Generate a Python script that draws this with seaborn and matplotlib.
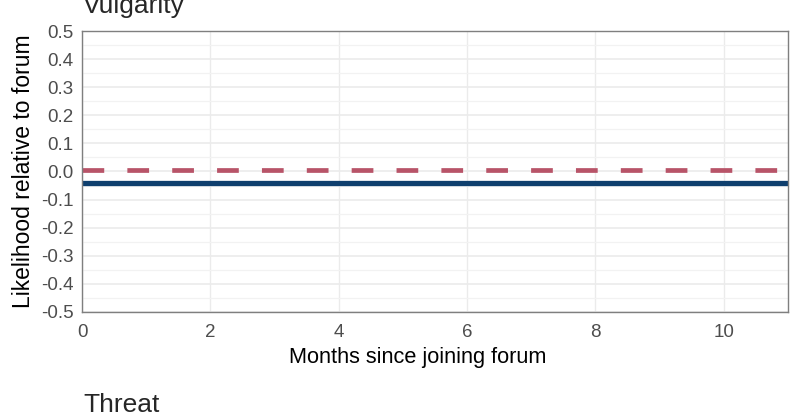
import pandas as pd
import numpy as np
import matplotlib
matplotlib.use("Agg")
import matplotlib.pyplot as plt
import seaborn as sns
from matplotlib.ticker import MultipleLocator

# ------------------------------
# Data
# ------------------------------
months = [0, 11]
forum_level = [0.005, 0.005]      # dashed red reference
user_level = [-0.042, -0.042]     # solid blue estimate
x_ticks = [0, 2, 4, 6, 8, 10]
y_ticks = [0.5, 0.4, 0.3, 0.2, 0.1, 0.0, -0.1, -0.2, -0.3, -0.4, -0.5]

df = pd.DataFrame({
    "month": months * 2,
    "value": forum_level + user_level,
    "series": ["forum"] * 2 + ["user"] * 2,
})

sns.set_style("white")
plt.rcParams["font.family"] = ["Liberation Sans", "DejaVu Sans"]

fig = plt.figure(figsize=(8, 4.19), dpi=100)
ax = fig.add_axes([0.1025, 0.2554, 0.8825, 0.6706])

sns.lineplot(data=df[df.series == "user"], x="month", y="value", color="#0F3F6E",
             linewidth=3.8, ax=ax, legend=False)
sns.lineplot(data=df[df.series == "forum"], x="month", y="value", color="#B85468",
             linewidth=3.4, ax=ax, legend=False)
ax.lines[1].set_dashes((4.6, 4.9))
ax.lines[1].set_dash_capstyle("butt")
ax.lines[0].set_solid_capstyle("butt")

ax.set_xlim(0, 11)
ax.set_ylim(-0.5, 0.5)
ax.set_xticks(x_ticks)
ax.set_xticklabels([str(t) for t in x_ticks])
ax.set_yticks(y_ticks)
ax.set_yticklabels([f"{t:.1f}" for t in y_ticks])
ax.yaxis.set_minor_locator(MultipleLocator(0.05))

ax.grid(which="major", axis="y", color="#ebebeb", linewidth=1.2)
ax.grid(which="major", axis="x", color="#ebebeb", linewidth=1.0)
ax.grid(which="minor", axis="y", color="#f2f2f2", linewidth=0.9)
ax.set_axisbelow(True)
for s in ax.spines.values():
    s.set_color("#7f7f7f")
    s.set_linewidth(1.0)

ax.tick_params(axis="both", which="major", direction="out", length=4, width=1,
               color="#333333", labelsize=13.5, labelcolor="#4d4d4d", pad=2)
ax.tick_params(axis="x", which="major", pad=5)
ax.tick_params(axis="both", which="minor", length=0)

ax.set_xlabel("Months since joining forum", fontsize=15.7, color="black")
ax.set_ylabel("Likelihood relative to forum", fontsize=16.5, color="black")
ax.xaxis.set_label_coords(0.475, -0.123)
ax.yaxis.set_label_coords(-0.066, 0.5)

fig.text(0.104, 0.968, "Vulgarity", fontsize=19, va="baseline", ha="left")
fig.text(0.104, 0.017, "Threat", fontsize=19, va="baseline", ha="left")

fig.savefig("out.png", dpi=100)
